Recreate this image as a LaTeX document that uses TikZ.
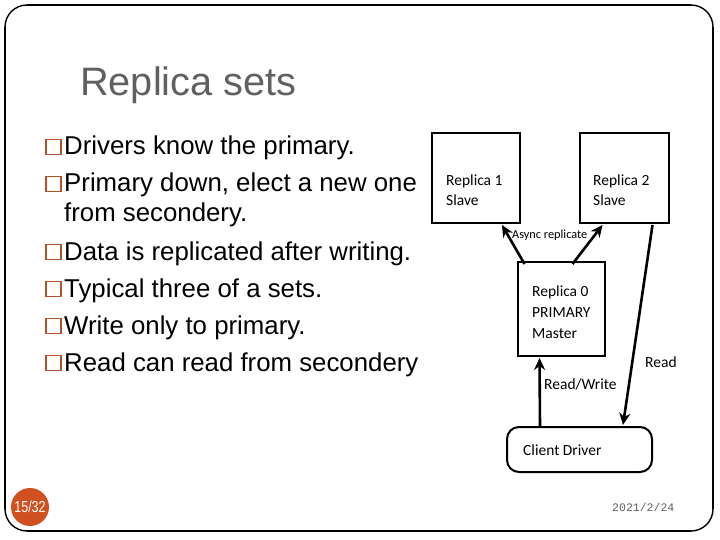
\documentclass[tikz,border=0pt]{standalone}
\usepackage{fontspec}
\setmainfont{Liberation Sans}
\newfontfamily\calfont{Carlito}
\newfontfamily\monofont{Liberation Mono}
\usetikzlibrary{arrows.meta,calc}
\definecolor{bulletc}{HTML}{B4532A}
\definecolor{titlec}{HTML}{606060}
\definecolor{badge}{HTML}{D0501F}
\begin{document}
\begin{tikzpicture}[x=1pt,y=-1pt,
  box/.style={draw,line width=2pt,minimum width=#1,inner sep=0pt},
  lbl/.style={anchor=base west,inner sep=0pt,font=\calfont\fontsize{15.5}{18}\selectfont},
  bul/.style={anchor=base west,inner sep=0pt,font=\fontsize{25.8}{30}\selectfont},
  arr/.style={line width=2.6pt,-{Stealth[length=12pt,width=11pt]}},
  framestyle/.style={line width=1.4pt,line join=round}]
\useasboundingbox (0,0) rectangle (720,540);
\fill[white] (0,0) rectangle (720,540);
% title
\node[anchor=base west,inner sep=0pt,text=titlec,font=\fontsize{39.7}{44}\selectfont] (title) at (80,96) {Replica sets};
% bullets
\foreach \y in {155,192,260,297,334,371}{
  \draw[bulletc,line width=1.6pt] (46,\y-15.5) rectangle (61,\y-0.5);
}
\node[bul] (t1) at (64,155) {Drivers know the primary.};
\node[bul] (t2) at (64,192) {Primary down, elect a new one};
\node[bul] (t3) at (64,222) {from secondery.};
\node[bul] (t4) at (64,260) {Data is replicated after writing.};
\node[bul] (t5) at (64,297) {Typical three of a sets.};
\node[bul] (t6) at (64,334) {Write only to primary.};
\node[bul] (t7) at (64,371) {Read can read from secondery};
% diagram boxes
\node[box=88pt,minimum height=90pt] (r1) at (476,178) {};
\node[box=89pt,minimum height=90pt] (r2) at (624,178) {};
\node[box=87pt,minimum height=94pt] (r0) at (561,309) {};
\node[box=145pt,minimum height=45pt,rounded corners=12pt] (cd) at (579.5,449.5) {};
\node[lbl] (r1a) at (446,186) {Replica 1};
\node[lbl] (r1b) at (446,206) {Slave};
\node[lbl] (r2a) at (593,186) {Replica 2};
\node[lbl] (r2b) at (593,206) {Slave};
\node[lbl] (r0a) at (532,296) {Replica 0};
\node[lbl] (r0b) at (532,317) {PRIMARY};
\node[lbl] (r0c) at (532,338) {Master};
\node[lbl] (cdt) at (523,455) {Client Driver};
% arrows
\draw[arr] ($(r0.north west)+(8,3)$) -- ($(r1.south east)+(-19,1)$);
\draw[arr] ($(r0.north west)+(56,3)$) -- ($(r2.south west)+(24,1)$);
\draw[arr] ($(cd.north west)+(34,0)$) -- ($(r0.south west)+(23,1)$);
\draw[arr] ($(r2.south east)+(-17,1)$) -- ($(cd.north west)+(117,-1)$);
\node[anchor=base west,inner sep=0pt,font=\calfont\fontsize{12.3}{14}\selectfont] (async) at (512,238) {Async replicate};
\node[lbl] (rw) at (544,389) {Read/Write};
\node[lbl] (rd) at (645,367) {Read};
% footer
\node[circle,fill=badge,minimum size=38pt,inner sep=0pt] (pg) at (30,507) {};
\node[text=white,inner sep=0pt,xscale=0.78,font=\fontsize{16}{18}\selectfont] (pgt) at (30,507) {15/32};
\node[anchor=west,inner sep=0pt,text=titlec,font=\monofont\fontsize{11.5}{13}\selectfont] (date) at (612,507) {2021/2/24};
% frame, drawn as explicit segments
\draw[framestyle] (27,5) -- (691,5);
\draw[framestyle] (713,27) -- (713,509);
\draw[framestyle] (691,531) -- (27,531);
\draw[framestyle] (5,509) -- (5,27);
\draw[framestyle] (5,27) .. controls (5,14.85) and (14.85,5) .. (27,5);
\draw[framestyle] (691,5) .. controls (703.15,5) and (713,14.85) .. (713,27);
\draw[framestyle] (713,509) .. controls (713,521.15) and (703.15,531) .. (691,531);
\draw[framestyle] (27,531) .. controls (14.85,531) and (5,521.15) .. (5,509);
\end{tikzpicture}
\end{document}
